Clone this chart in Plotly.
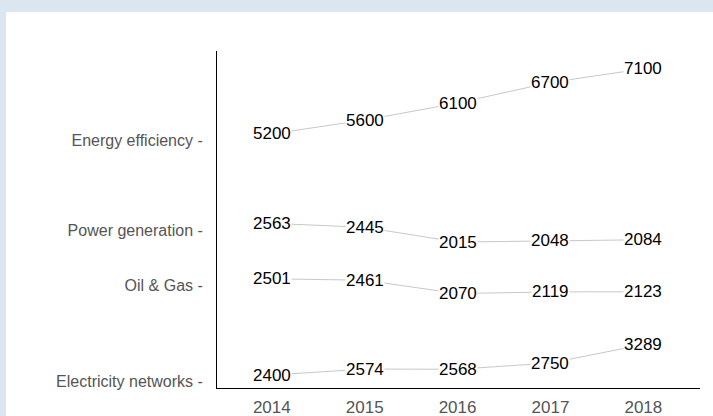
import plotly.graph_objects as go

years = [2014, 2015, 2016, 2017, 2018]
categories = ["Energy efficiency", "Power generation", "Oil & Gas", "Electricity networks"]
energy_efficiency = [5200, 5600, 6100, 6700, 7100]
power_generation = [2563, 2445, 2015, 2048, 2084]
oil_gas = [2501, 2461, 2070, 2119, 2123]
electricity_networks = [2400, 2574, 2568, 2750, 3289]

series = [energy_efficiency, power_generation, oil_gas, electricity_networks]

# vertical layout offsets for each row (style, not data)
row_offsets = [2230, 2250, 690, -2020]
label_shift = 195

W, H = 713, 416
ML, MR, MT, MB = 217, 13, 51, 28
PW, PH = W - ML - MR, H - MT - MB

FONT = "Liberation Sans, Arial, sans-serif"

fig = go.Figure()
annotations = []
tickvals, ticktext = [], []
for name, vals, off in zip(categories, series, row_offsets):
    ys = [v + off for v in vals]
    fig.add_trace(go.Scatter(
        x=years, y=ys, mode="lines",
        line=dict(color="#c8c8c8", width=1),
        hoverinfo="skip", showlegend=False,
    ))
    for x, y, v in zip(years, ys, vals):
        annotations.append(dict(
            x=x, y=y, xref="x", yref="y", text=str(v), showarrow=False,
            xanchor="center", yanchor="middle", bgcolor="white", borderpad=0,
            font=dict(family=FONT, size=17, color="#000000"),
        ))
    tickvals.append(ys[0] - label_shift)
    ticktext.append(name + " -")

def px_to_paper_x(px):
    return (px - ML) / PW

def py_to_paper_y(py):
    return (H - MB - py) / PH

BLUE = "#dce6f1"
shapes = [
    dict(type="rect", xref="paper", yref="paper",
         x0=px_to_paper_x(-2), x1=px_to_paper_x(W + 2),
         y0=py_to_paper_y(12), y1=py_to_paper_y(-2),
         fillcolor=BLUE, line=dict(width=0), layer="below"),
    dict(type="rect", xref="paper", yref="paper",
         x0=px_to_paper_x(-2), x1=px_to_paper_x(6),
         y0=py_to_paper_y(H + 2), y1=py_to_paper_y(-2),
         fillcolor=BLUE, line=dict(width=0), layer="below"),
]

fig.update_layout(
    width=W, height=H,
    margin=dict(l=ML, r=MR, t=MT, b=MB, pad=0, autoexpand=False),
    paper_bgcolor="white",
    plot_bgcolor="white",
    annotations=annotations,
    shapes=shapes,
    font=dict(family=FONT, size=16, color="#555555"),
)
fig.update_xaxes(
    range=[2013.41, 2018.61], tickvals=years, ticktext=[str(y) for y in years],
    showline=True, linecolor="#000000", linewidth=1, showgrid=False, zeroline=False,
    ticks="", tickfont=dict(family=FONT, size=17, color="#555555"),
    ticklabelstandoff=4, automargin=False,
)
fig.update_yaxes(
    range=[0, 9850], tickvals=tickvals, ticktext=ticktext,
    showline=True, linecolor="#000000", linewidth=1, showgrid=False, zeroline=False,
    ticks="", tickfont=dict(family=FONT, size=16, color="#555555"),
    ticklabelstandoff=10, automargin=False,
)

fig.write_html(
    "out.html",
    config={"displayModeBar": False},
    post_script="document.body.style.margin='0';document.body.style.overflow='hidden';",
)
